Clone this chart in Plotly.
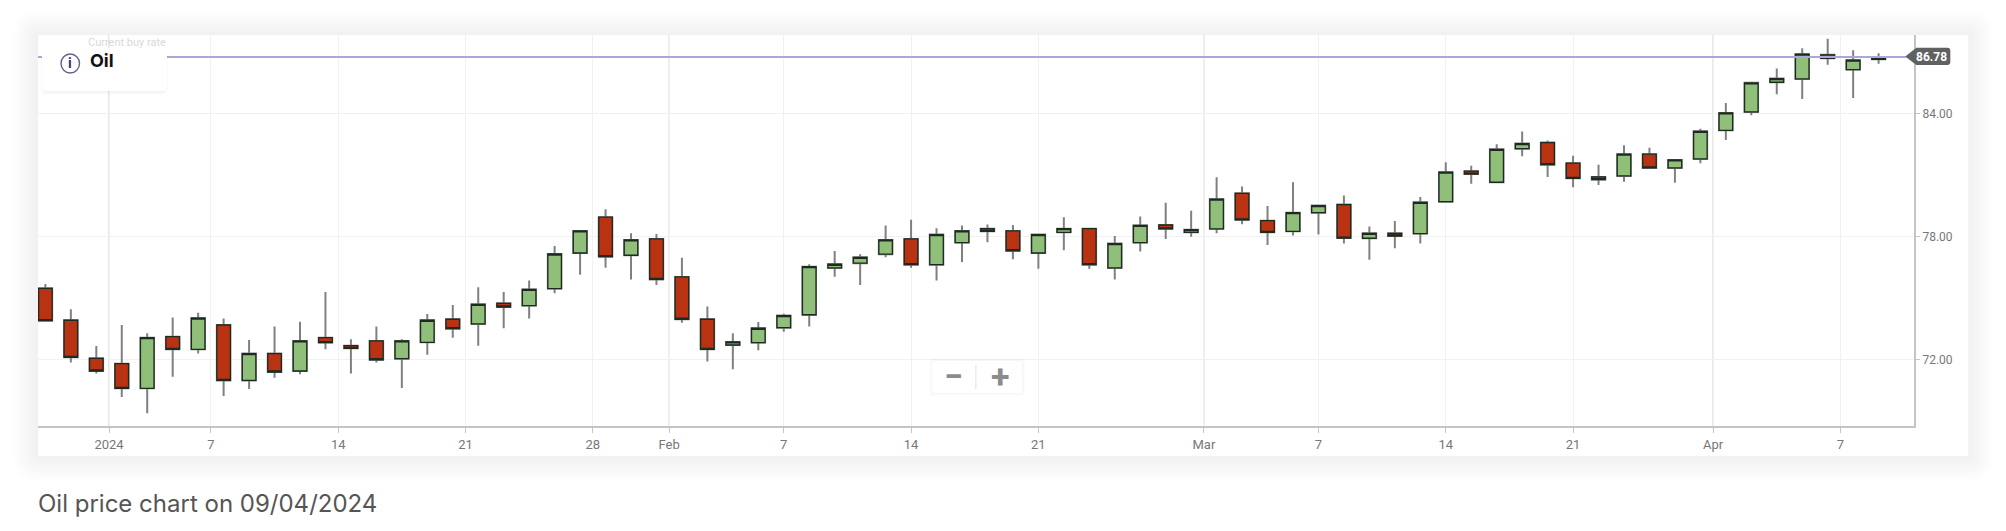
import plotly.graph_objects as go

index = list(range(73))
open_ = [75.47,73.91,72.05,71.79,70.58,73.11,72.49,73.68,70.97,72.28,71.43,73.06,72.67,72.90,72.03,72.83,73.96,73.73,74.74,
         74.63,75.46,77.20,78.95,77.09,77.89,76.03,73.96,72.70,72.82,73.55,74.18,76.47,76.70,77.14,77.89,76.63,77.71,78.39,78.28,
         77.20,78.21,78.39,76.47,77.71,78.57,78.21,78.38,80.12,78.78,78.26,79.17,79.57,77.92,78.16,78.15,79.71,81.20,80.66,82.30,
         82.60,81.59,80.92,80.97,82.03,81.36,81.80,83.20,84.10,85.55,85.71,86.89,86.17,86.67]
close = [73.89,72.10,71.43,70.58,73.06,72.49,74.02,70.97,72.28,71.38,72.90,72.82,72.54,71.98,72.90,73.91,73.50,74.69,74.56,
         75.42,77.15,78.28,77.02,77.84,75.91,73.96,72.49,72.85,73.52,74.14,76.53,76.65,76.99,77.84,76.63,78.10,78.28,78.26,77.31,
         78.10,78.39,76.63,77.66,78.55,78.38,78.34,79.83,78.82,78.21,79.17,79.52,77.93,78.16,78.03,79.68,81.15,81.06,82.27,82.55,
         81.52,80.85,80.79,82.03,81.36,81.75,83.15,84.05,85.52,85.73,86.92,86.72,86.63,86.77]
high = [75.68,74.45,72.65,73.68,73.27,74.05,74.28,74.00,72.95,73.60,73.84,75.29,72.98,73.60,72.98,74.22,74.66,75.52,75.29,
        75.85,77.54,78.29,79.34,78.16,78.13,76.97,74.58,73.27,73.83,74.23,76.65,77.30,77.14,78.54,78.82,78.41,78.54,78.59,78.57,
        78.11,78.95,78.41,78.03,78.98,79.66,79.27,80.90,80.45,79.50,80.66,79.55,80.01,78.49,78.77,79.94,81.64,81.47,82.52,83.14,
        82.70,81.95,81.51,82.47,82.35,81.77,83.27,84.54,85.53,86.22,87.21,87.68,87.11,86.97]
low = [73.86,71.84,71.31,70.16,69.36,71.15,72.29,70.21,70.55,71.10,71.27,72.49,71.31,71.84,70.60,72.23,73.06,72.67,73.52,
       74.00,75.23,76.14,76.48,75.91,75.64,73.79,71.89,71.51,72.44,73.35,73.61,76.04,75.64,76.99,76.48,75.86,76.76,77.72,76.89,
       76.43,77.33,76.43,75.91,77.27,77.89,78.00,78.16,78.60,77.59,78.05,78.11,77.67,76.87,77.43,77.67,79.68,80.59,80.64,81.93,
       80.92,80.41,80.53,80.69,81.31,80.64,81.59,82.73,83.93,84.96,84.73,86.41,84.78,86.46]
body_top = [max(o, c) for o, c in zip(open_, close)]
body_bottom = [min(o, c) for o, c in zip(open_, close)]

current_price = 86.78
x_tick_vals = [2.5, 6.5, 11.5, 16.5, 21.5, 24.5, 29, 34, 39, 45.5, 50, 55, 60, 65.5, 70.5]
x_tick_text = ["2024", "7", "14", "21", "28", "Feb", "7", "14", "21", "Mar", "7", "14", "21", "Apr", "7"]
month_starts = [2.5, 24.5, 45.5, 65.5]
y_tick_vals = [72, 78, 84]
y_tick_text = ["72.00", "78.00", "84.00"]

RED, GREEN, EDGE, WICK = "#b93312", "#8fbf79", "#1c2a20", "#808080"
L, R, T, B = 38.0, 1913.7, 35.0, 426.0


def px(x):
    return (x - L) / (R - L)


def py(y):
    return (B - y) / (B - T)


def rect(x0, y0, x1, y1, **kw):
    return dict(type="rect", xref="paper", yref="paper", x0=px(x0), x1=px(x1), y0=py(y1), y1=py(y0), **kw)


def rounded(x0, y0, x1, y1, r):
    a, b, c, d = px(x0), px(x1), py(y0), py(y1)
    rx, ry = r / (R - L), r / (B - T)
    return (f"M{a+rx},{c} L{b-rx},{c} Q{b},{c} {b},{c-ry} L{b},{d+ry} Q{b},{d} {b-rx},{d} "
            f"L{a+rx},{d} Q{a},{d} {a},{d+ry} L{a},{c-ry} Q{a},{c} {a+rx},{c} Z")


shapes = []
# soft card shadow and card
for k in range(14, 0, -1):
    shapes.append(dict(type="path", xref="paper", yref="paper", layer="below", line_width=0,
                       fillcolor="rgba(0,0,0,0.0055)",
                       path=rounded(38 - 1.8 * k, 35 - 1.8 * k, 1968 + 1.8 * k, 456 + 1.8 * k, 1.8 * k)))
shapes.append(rect(38, 35, 1968, 456, fillcolor="white", line_width=0, layer="below"))
# month separators
for m in month_starts:
    shapes.append(dict(type="line", xref="x", yref="paper", x0=m, x1=m, y0=0, y1=1,
                       line=dict(color="#dcdcdc", width=1.4), layer="below"))
# current price line
shapes.append(dict(type="line", xref="paper", yref="y", x0=0, x1=px(1906), y0=current_price, y1=current_price,
                   line=dict(color="#aca7da", width=2), layer="above"))
# price tag
tag_mid = 56.5
shapes.append(dict(type="path", xref="paper", yref="paper", layer="above", line_width=0, fillcolor="#616161",
                   path=f"M{px(1905)},{py(tag_mid)} L{px(1916)},{py(47.7)} L{px(1947)},{py(47.7)} Q{px(1950)},{py(47.7)} {px(1950)},{py(50.7)} "
                        f"L{px(1950)},{py(62)} Q{px(1950)},{py(65)} {px(1947)},{py(65)} L{px(1916)},{py(65)} Z"))
# info box: shadow mostly beneath it
for k in range(4, 0, -1):
    shapes.append(dict(type="path", xref="paper", yref="paper", layer="above", line_width=0,
                       fillcolor="rgba(0,0,0,0.012)", path=rounded(43 - k * 0.5, 50, 166 + k * 0.5, 91 + k, 6)))
shapes.append(dict(type="path", xref="paper", yref="paper", layer="above", line_width=0,
                   fillcolor="white", path=rounded(42, 48, 167, 91, 5)))
shapes.append(dict(type="circle", xref="paper", yref="paper", layer="above", fillcolor="white",
                   x0=px(61), x1=px(79.5), y0=py(73), y1=py(54), line=dict(color="#62628c", width=1.4)))
# zoom control
for k in range(3, 0, -1):
    shapes.append(dict(type="path", xref="paper", yref="paper", layer="above", line_width=0,
                       fillcolor="rgba(0,0,0,0.010)", path=rounded(932 - k, 361 - k, 1022 + k, 393 + k, 4)))
shapes.append(dict(type="path", xref="paper", yref="paper", layer="above", line_width=0,
                   fillcolor="white", path=rounded(932, 361, 1022, 393, 3)))
shapes.append(dict(type="line", xref="paper", yref="paper", layer="above", x0=px(975.7), x1=px(975.7),
                   y0=py(365), y1=py(389), line=dict(color="#e6e6e6", width=1.2)))


def text(x, y, s, size, color, family="Roboto", anchor="left", bold=False):
    return dict(xref="paper", yref="paper", x=px(x), y=py(y), text=f"<b>{s}</b>" if bold else s, showarrow=False,
                xanchor=anchor, yanchor="middle", font=dict(family=family, size=size, color=color))


annotations = [
    text(86, 42.5, "Current buy rate", 11, "#d9d9d9"),
    text(88, 60, "Oil", 18, "#111111", family="Inter", bold=True),
    text(70.2, 63.5, "i", 14, "#34347a", family="Roboto", anchor="center", bold=True),
    text(1931, 56.5, str(current_price), 12, "#ffffff", anchor="center", bold=True),
    text(953, 376, "−", 34, "#8c8c8c", anchor="center", bold=True),
    text(1000, 376, "+", 34, "#8c8c8c", anchor="center", bold=True),
    text(36, 503, "Oil price chart on 09/04/2024", 24, "#555555", family="Inter"),
]

fig = go.Figure()
fig.add_trace(go.Candlestick(x=index, open=open_, high=high, low=low, close=close, whiskerwidth=0,
                             increasing=dict(line=dict(color=WICK, width=2), fillcolor=GREEN),
                             decreasing=dict(line=dict(color=WICK, width=2), fillcolor=RED), name="Oil wick"))
fig.add_trace(go.Candlestick(x=index, open=open_, high=body_top, low=body_bottom, close=close, whiskerwidth=0,
                             increasing=dict(line=dict(color=EDGE, width=1.3), fillcolor=GREEN),
                             decreasing=dict(line=dict(color=EDGE, width=1.3), fillcolor=RED), name="Oil"))
fig.update_layout(
    width=2006, height=531, margin=dict(l=L, r=2006 - R, t=T, b=531 - B, autoexpand=False),
    paper_bgcolor="white", plot_bgcolor="rgba(0,0,0,0)", showlegend=False, boxgap=0.24,
    shapes=shapes, annotations=annotations, font=dict(family="Roboto"),
    xaxis=dict(range=[-0.29, 73.39], rangeslider_visible=False, tickmode="array", tickvals=x_tick_vals,
               ticktext=x_tick_text, showgrid=True, gridcolor="#f1f1f1", gridwidth=1, ticks="outside", ticklen=5,
               tickcolor="#c4c4c4", showline=True, linecolor="#c4c4c4", linewidth=2, zeroline=False,
               tickfont=dict(family="Roboto", size=13, color="#777777")),
    yaxis=dict(range=[68.74, 87.86], side="right", tickmode="array", tickvals=y_tick_vals, ticktext=y_tick_text,
               showgrid=True, gridcolor="#f1f1f1", gridwidth=1, ticks="outside", ticklen=4, tickcolor="#c4c4c4",
               showline=True, linecolor="#c4c4c4", linewidth=2, zeroline=False,
               tickfont=dict(family="Roboto", size=12, color="#777777")),
)
fig.write_html("out.html", config=dict(displayModeBar=False),
               post_script="document.body.style.margin='0';document.body.style.overflow='hidden';")
